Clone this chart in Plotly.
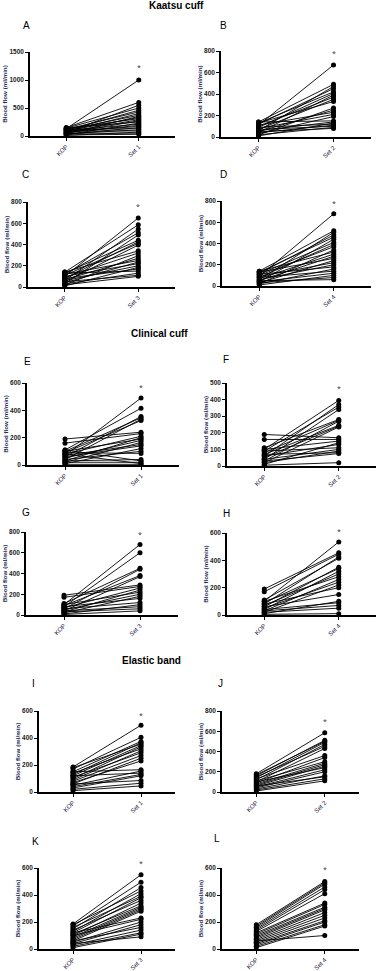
import plotly.graph_objects as go

W, H = 378, 971

# ---------------- data ----------------
letters = ["A", "B", "C", "D", "E", "F", "G", "H", "I", "J", "K", "L"]
set_labels = ["Set 1", "Set 2", "Set 3", "Set 4"] * 3
section_titles = ["Kaatsu cuff", "Clinical cuff", "Elastic band"]
y_max = [1500, 800, 800, 800, 600, 500, 800, 600, 600, 800, 600, 600]
y_dtick = [500, 200, 200, 200, 200, 100, 200, 200, 200, 200, 200, 200]
asterisk_y = [1220, 780, 760, 780, 570, 465, 780, 610, 570, 700, 630, 590]

kop_A = [130, 150, 60, 140, 100, 120, 80, 110, 40, 90, 130, 70, 50, 145, 20, 100, 60, 80, 30, 120, 40, 90, 10, 50, 20]
set_A = [1000, 600, 550, 500, 460, 430, 400, 370, 350, 330, 310, 290, 270, 250, 230, 210, 190, 170, 150, 130, 110, 90, 70, 50, 30]
kop_B = [110, 140, 60, 120, 130, 90, 40, 100, 70, 130, 20, 50, 110, 80, 30, 140, 60, 10, 90, 40, 70, 20, 50]
set_B = [670, 490, 470, 450, 420, 405, 390, 370, 350, 330, 270, 250, 230, 210, 190, 150, 140, 130, 120, 110, 100, 90, 80]
kop_C = [100, 140, 60, 120, 30, 130, 80, 110, 50, 140, 90, 20, 70, 120, 40, 100, 60, 10, 80, 130, 30, 50, 20]
set_C = [650, 585, 545, 510, 490, 440, 425, 410, 395, 340, 320, 295, 270, 250, 235, 220, 200, 185, 170, 150, 130, 110, 100]
kop_D = [90, 140, 60, 120, 130, 40, 110, 80, 100, 20, 140, 70, 50, 130, 30, 90, 60, 110, 20, 80, 40, 10, 30, 50]
set_D = [680, 520, 505, 480, 460, 440, 410, 390, 370, 340, 320, 300, 280, 260, 240, 220, 200, 180, 160, 140, 120, 100, 80, 60]
kop_E = [70, 110, 60, 100, 40, 90, 190, 160, 80, 30, 100, 50, 20, 70, 60, 10, 40, 90, 30, 110, 20, 80, 5]
set_E = [490, 415, 355, 345, 335, 325, 240, 230, 210, 200, 190, 180, 165, 150, 140, 120, 100, 85, 40, 30, 20, 10, 5]
kop_F = [100, 60, 90, 40, 110, 80, 30, 70, 50, 20, 190, 160, 100, 10, 60, 90, 40, 20, 70, 30, 5]
set_F = [395, 370, 355, 340, 280, 275, 270, 245, 240, 235, 170, 160, 150, 140, 130, 110, 100, 90, 80, 75, 20]
kop_G = [100, 80, 110, 60, 90, 40, 190, 170, 70, 30, 100, 50, 20, 80, 60, 10, 40, 30, 5]
set_G = [680, 600, 450, 440, 380, 370, 290, 275, 260, 240, 220, 200, 180, 160, 120, 100, 80, 60, 40]
kop_H = [100, 190, 170, 80, 110, 60, 90, 40, 70, 100, 30, 50, 20, 80, 60, 10, 40, 30, 20, 5]
set_H = [535, 455, 445, 425, 415, 350, 340, 320, 300, 280, 260, 240, 220, 200, 150, 100, 90, 70, 50, 10]
kop_I = [185, 170, 150, 130, 180, 120, 100, 140, 90, 110, 80, 60, 70, 150, 50, 120, 40, 30, 60, 20, 10]
set_I = [495, 405, 375, 365, 355, 345, 335, 320, 305, 290, 270, 250, 230, 165, 155, 140, 130, 120, 85, 65, 45]
kop_J = [180, 160, 170, 140, 120, 150, 100, 130, 90, 110, 80, 70, 60, 100, 50, 40, 30, 60, 20, 10]
set_J = [585, 510, 500, 490, 470, 450, 430, 360, 340, 300, 285, 270, 255, 240, 220, 200, 160, 150, 130, 110]
kop_K = [185, 170, 150, 180, 130, 160, 120, 140, 100, 110, 90, 80, 70, 60, 120, 100, 50, 40, 60, 30, 20, 10, 40]
set_K = [550, 495, 455, 430, 410, 390, 380, 360, 340, 320, 310, 300, 290, 280, 230, 220, 200, 180, 160, 140, 120, 110, 90]
kop_L = [180, 170, 160, 150, 140, 130, 120, 110, 100, 90, 80, 70, 60, 50, 40, 30, 20, 10, 60]
set_L = [500, 490, 480, 460, 440, 410, 340, 330, 310, 300, 290, 270, 250, 230, 210, 200, 180, 170, 100]

kop_all = [kop_A, kop_B, kop_C, kop_D, kop_E, kop_F, kop_G, kop_H, kop_I, kop_J, kop_K, kop_L]
set_all = [set_A, set_B, set_C, set_D, set_E, set_F, set_G, set_H, set_I, set_J, set_K, set_L]

# ---------------- layout (window-pixel boxes) ----------------
# x0, x1, ytop, ybottom
boxes = [
    (30, 175, 52, 136), (221, 371, 51, 137),
    (28, 175, 202, 287), (222, 371, 201, 286),
    (27, 179, 383, 465), (227, 376, 383, 466),
    (26, 178, 532, 615), (227, 376, 533, 615),
    (39, 175, 711, 792), (222, 359, 711, 792),
    (39, 175, 868, 949), (222, 359, 868, 949),
]
letter_pos = [(21, 25), (218, 25), (20, 175), (218, 175), (22, 361), (221, 359),
              (20, 512), (221, 513), (30, 683), (216, 683), (30, 841), (212, 838)]
title_pos = [(176, 5), (159, 333), (151, 660)]

def fx(x):
    return x / W

def fy(y):
    return 1 - y / H

fig = go.Figure()
annotations = []
layout_axes = {}

for i in range(12):
    n = i + 1
    xa = "x" if n == 1 else f"x{n}"
    ya = "y" if n == 1 else f"y{n}"
    xs, ys = [], []
    for k, s in zip(kop_all[i], set_all[i]):
        xs += ["KOP", set_labels[i], None]
        ys += [k, s, None]
    fig.add_trace(go.Scatter(
        x=xs, y=ys, xaxis=xa, yaxis=ya, mode="lines+markers",
        line=dict(color="black", width=0.9),
        marker=dict(color="black", size=5),
        cliponaxis=False, showlegend=False, connectgaps=False,
    ))
    x0, x1, yt, yb = boxes[i]
    layout_axes["xaxis" if n == 1 else f"xaxis{n}"] = dict(
        domain=[fx(x0), fx(x1)], anchor=ya, type="category",
        categoryorder="array", categoryarray=["KOP", set_labels[i]],
        range=[-0.5, 1.5], showline=True, linecolor="black", linewidth=1.5,
        ticks="outside", ticklen=3, tickwidth=1, tickcolor="black",
        tickangle=-45, showgrid=False, zeroline=False, automargin=False,
        tickfont=dict(size=6.2, color="#2a2040", family="Liberation Sans"),
    )
    layout_axes["yaxis" if n == 1 else f"yaxis{n}"] = dict(
        domain=[fy(yb), fy(yt)], anchor=xa, range=[0, y_max[i]],
        dtick=y_dtick[i], showline=True, linecolor="black", linewidth=1.5,
        ticks="outside", ticklen=3, tickwidth=1, tickcolor="black",
        showgrid=False, zeroline=False, automargin=False,
        tickfont=dict(size=6.5, color="#222222", family="Liberation Sans", weight="bold"),
        title=dict(text="Blood flow (ml/min)", standoff=1,
                   font=dict(size=6.2, color="#1c2a55", family="Liberation Sans", weight="bold")),
    )
    # significance asterisk above the set column (domain-relative so it may sit above the axis top)
    annotations.append(dict(
        x=set_labels[i], xref=xa, y=asterisk_y[i] / y_max[i], yref=f"{ya} domain",
        text="*", showarrow=False, yanchor="middle",
        font=dict(size=7, color="#333333"),
    ))
    lx, ly = letter_pos[i]
    annotations.append(dict(
        x=fx(lx), y=fy(ly), xref="paper", yref="paper", text=letters[i],
        showarrow=False, xanchor="left", yanchor="middle",
        font=dict(size=10, color="black", family="Liberation Sans"),
    ))

for t, (tx, ty) in zip(section_titles, title_pos):
    annotations.append(dict(
        x=fx(tx), y=fy(ty), xref="paper", yref="paper", text=f"<b>{t}</b>",
        showarrow=False, xanchor="center", yanchor="middle",
        font=dict(size=10, color="black", family="Liberation Sans"),
    ))

fig.update_layout(
    width=W, height=H, margin=dict(l=0, r=0, t=0, b=0),
    paper_bgcolor="white", plot_bgcolor="white", template="none",
    annotations=annotations, **layout_axes,
)

# remove the browser's default 8px page margin so the figure fills the window
fig.write_html("out.html", config={"displayModeBar": False},
               post_script="document.body.style.margin='0';")
